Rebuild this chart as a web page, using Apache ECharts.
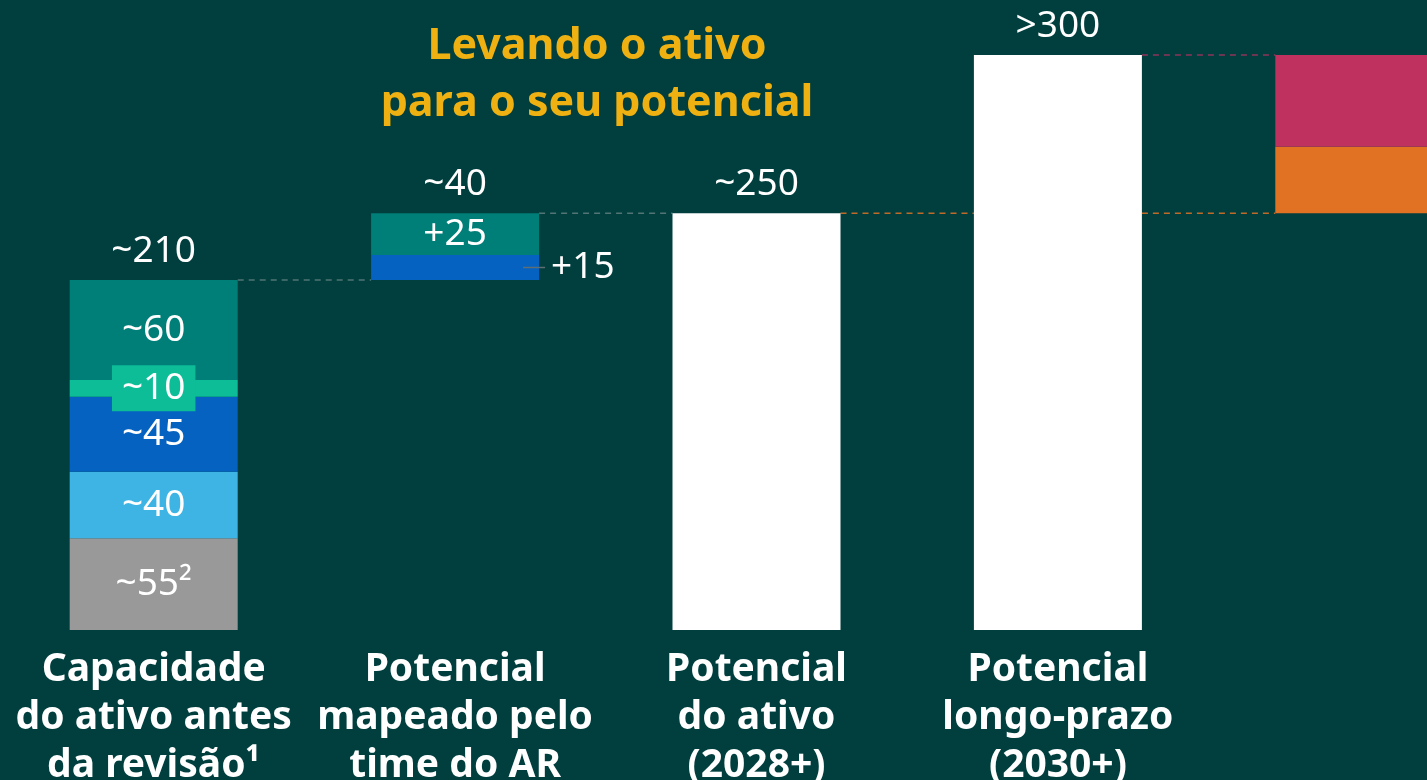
<!DOCTYPE html>
<html>
<head>
<meta charset="utf-8">
<script src="https://cdn.jsdelivr.net/npm/echarts@6/dist/echarts.min.js"></script>
<style>
  html, body { margin: 0; padding: 0; background: #013F3F; }
  #chart { width: 1427px; height: 780px; }
</style>
</head>
<body>
<div id="chart"></div>
<script>
// categorias (a quinta coluna não tem rótulo)
const categories = ['Capacidade\ndo ativo antes\nda revisão¹', 'Potencial\nmapeado pelo\ntime do AR', 'Potencial\ndo ativo\n(2028+)', 'Potencial\nlongo-prazo\n(2030+)', ''];

// segmentos empilhados
const baseVals      = [0, 210, 0, 0, 250];
const grayVals      = [55, '-', '-', '-', '-'];
const lightBlueVals = [40, '-', '-', '-', '-'];
const blueVals      = [45, 15, '-', '-', '-'];
const greenVals     = [10, '-', '-', '-', '-'];
const tealVals      = [60, 25, '-', '-', '-'];
const whiteVals     = ['-', '-', 250, 345, '-'];
const orangeVals    = ['-', '-', '-', '-', 40];
const redVals       = ['-', '-', '-', '-', 55];

// rótulos
const grayLabels   = ['~55²'];
const lightLabels  = ['~40'];
const blueLabels   = ['~45', '+15'];
const greenLabels  = ['~10'];
const tealLabels   = ['~60', '+25'];
const totalVals    = [210, 250, 250, 345];
const totalLabels  = ['~210', '~40', '~250', '>300'];

// linhas tracejadas entre barras: [índice de origem, valor, cor]
const connectors = [
  [0, 210, 'rgba(150,160,160,0.55)'],
  [1, 250, 'rgba(150,160,160,0.55)'],
  [2, 250, 'rgba(226,114,35,0.85)'],
  [3, 345, 'rgba(190,49,96,0.75)'],
  [3, 250, 'rgba(226,114,35,0.85)']
];

const FONT = 'Noto Sans';
const BAR_W = 168;

const chart = echarts.init(document.getElementById('chart'));

function segLabel(labels, extra) {
  return Object.assign({
    show: true,
    position: 'inside',
    color: '#fff',
    fontFamily: FONT,
    fontSize: 37,
    formatter: p => labels[p.dataIndex] || ''
  }, extra || {});
}

function seg(name, data, color, label) {
  return {
    name: name,
    type: 'bar',
    stack: 'total',
    barWidth: BAR_W,
    data: data,
    itemStyle: { color: color },
    label: label || { show: false },
    emphasis: { disabled: true },
    silent: true
  };
}

const blueData = blueVals.map((v, i) => {
  if (i === 1) {
    return { value: v, label: { position: 'right', distance: 12 } };
  }
  return v;
});

const option = {
  backgroundColor: '#013F3F',
  animation: false,
  grid: { left: 3, width: 1507, top: 30, bottom: 150, outerBoundsMode: 'none', containLabel: false },
  graphic: [{
    type: 'text',
    x: 597,
    y: 18,
    style: {
      text: 'Levando o ativo\npara o seu potencial',
      align: 'center',
      fill: '#EEB111',
      font: 'bold 43px "Noto Sans"',
      lineHeight: 57
    }
  }],
  xAxis: {
    type: 'category',
    data: categories,
    axisLine: { show: false },
    axisTick: { show: false },
    axisLabel: {
      color: '#fff',
      fontFamily: FONT,
      fontWeight: 'bold',
      fontSize: 39,
      lineHeight: 48,
      margin: 16,
      interval: 0
    }
  },
  yAxis: {
    type: 'value',
    min: 0,
    max: 360,
    show: false,
    splitLine: { show: false }
  },
  series: [
    seg('base', baseVals, 'rgba(0,0,0,0)'),
    seg('gray', grayVals, '#999999', segLabel(grayLabels)),
    seg('lightBlue', lightBlueVals, '#3DB4E4', segLabel(lightLabels)),
    seg('blue', blueData, '#0562C1', segLabel(blueLabels)),
    seg('green', greenVals, '#0DBD98', segLabel(greenLabels, {
      backgroundColor: '#0DBD98',
      padding: [4, 10],
      lineHeight: 38
    })),
    seg('teal', tealVals, '#007E78', segLabel(tealLabels)),
    seg('white', whiteVals, '#ffffff'),
    seg('orange', orangeVals, '#E27223'),
    seg('red', redVals, '#BF315F'),
    {
      // totais acima das barras
      type: 'custom',
      silent: true,
      data: totalVals.map((v, i) => [i, v]),
      renderItem: (params, api) => {
        const p = api.coord([api.value(0), api.value(1)]);
        return {
          type: 'text',
          style: {
            x: p[0],
            y: p[1] - 29,
            text: totalLabels[params.dataIndex],
            fill: '#fff',
            font: '37px "Noto Sans"',
            align: 'center',
            verticalAlign: 'middle'
          }
        };
      }
    },
    {
      // conectores tracejados
      type: 'custom',
      silent: true,
      z: 1,
      data: connectors.map(c => [c[0], c[1]]),
      renderItem: (params, api) => {
        const i = api.value(0);
        const v = api.value(1);
        const a = api.coord([i, v]);
        const b = api.coord([i + 1, v]);
        return {
          type: 'line',
          shape: { x1: a[0] + BAR_W / 2, y1: a[1], x2: b[0] - BAR_W / 2, y2: b[1] },
          style: {
            stroke: connectors[params.dataIndex][2],
            lineWidth: 1.5,
            lineDash: [6, 5]
          }
        };
      }
    },
    {
      // linha de chamada do "+15"
      type: 'custom',
      silent: true,
      z: 3,
      data: [[1, 210 + 15 / 2]],
      renderItem: (params, api) => {
        const p = api.coord([api.value(0), api.value(1)]);
        return {
          type: 'line',
          shape: { x1: p[0] + 68, y1: p[1], x2: p[0] + 90, y2: p[1] },
          style: { stroke: '#5E6E72', lineWidth: 1.5 }
        };
      }
    }
  ]
};

chart.setOption(option);
</script>
</body>
</html>
